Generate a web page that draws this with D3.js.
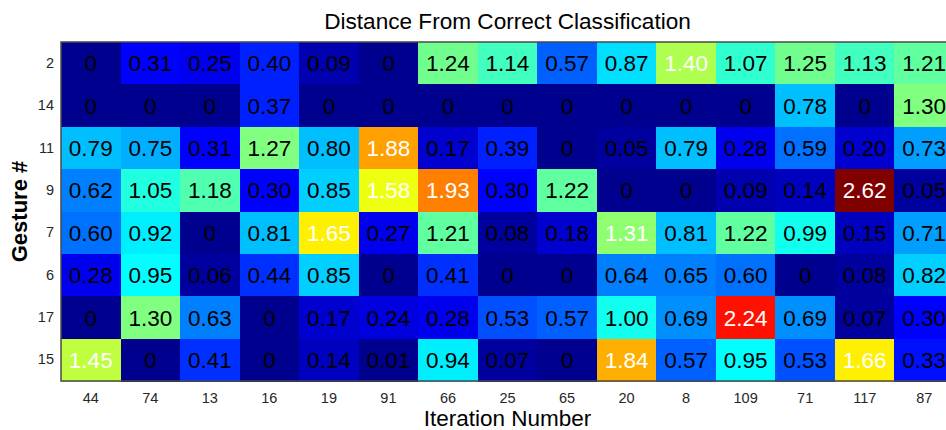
<!DOCTYPE html>
<html>
<head>
<meta charset="utf-8">
<script src="https://cdn.jsdelivr.net/npm/d3@7"></script>
<style>
  html, body { margin: 0; padding: 0; background: #fff; overflow: hidden; }
  svg { display: block; font-family: "Liberation Sans", Arial, Helvetica, sans-serif; }
</style>
</head>
<body>
<svg id="chart" width="946" height="430"></svg>
<script>
// Iteration numbers along the bottom, gesture ids down the side
const iterations = ["44", "74", "13", "16", "19", "91", "66", "25", "65", "20", "8", "109", "71", "117", "87"];
const gestures = ["2", "14", "11", "9", "7", "6", "17", "15"];

// Distance from the correct classification, one array per gesture row
const g2  = [0, 0.31, 0.25, 0.40, 0.09, 0, 1.24, 1.14, 0.57, 0.87, 1.40, 1.07, 1.25, 1.13, 1.21];
const g14 = [0, 0, 0, 0.37, 0, 0, 0, 0, 0, 0, 0, 0, 0.78, 0, 1.30];
const g11 = [0.79, 0.75, 0.31, 1.27, 0.80, 1.88, 0.17, 0.39, 0, 0.05, 0.79, 0.28, 0.59, 0.20, 0.73];
const g9  = [0.62, 1.05, 1.18, 0.30, 0.85, 1.58, 1.93, 0.30, 1.22, 0, 0, 0.09, 0.14, 2.62, 0.05];
const g7  = [0.60, 0.92, 0, 0.81, 1.65, 0.27, 1.21, 0.08, 0.18, 1.31, 0.81, 1.22, 0.99, 0.15, 0.71];
const g6  = [0.28, 0.95, 0.06, 0.44, 0.85, 0, 0.41, 0, 0, 0.64, 0.65, 0.60, 0, 0.08, 0.82];
const g17 = [0, 1.30, 0.63, 0, 0.17, 0.24, 0.28, 0.53, 0.57, 1.00, 0.69, 2.24, 0.69, 0.07, 0.30];
const g15 = [1.45, 0, 0.41, 0, 0.14, 0.01, 0.94, 0.07, 0, 1.84, 0.57, 0.95, 0.53, 1.66, 0.33];
const rows = [g2, g14, g11, g9, g7, g6, g17, g15];

const cells = [];
rows.forEach((vals, r) => vals.forEach((v, c) => cells.push({ g: gestures[r], it: iterations[c], v })));

// 64-step "jet" colour table
function jetTable(m) {
  const n = Math.ceil(m / 4);
  const u = [];
  for (let k = 1; k <= n; k++) u.push(k / n);
  for (let k = 1; k < n; k++) u.push(1);
  for (let k = n; k >= 1; k--) u.push(k / n);
  const off = Math.ceil(n / 2) - (m % 4 === 1 ? 1 : 0);
  const J = Array.from({ length: m }, () => [0, 0, 0]);
  u.forEach((val, k) => {
    const g = off + k + 1;
    const r = g + n, b = g - n;
    if (r <= m) J[r - 1][0] = val;
    if (g >= 1 && g <= m) J[g - 1][1] = val;
    if (b >= 1) J[b - 1][2] = val;
  });
  return J.map(([r, g, b]) => d3.rgb(r * 255, g * 255, b * 255).formatHex());
}
const jet = jetTable(64);
const vmax = d3.max(cells, d => d.v);
const color = v => jet[Math.min(63, Math.floor(v / vmax * 64))];

const svg = d3.select("#chart");
const x = d3.scaleBand().domain(iterations).range([61, 954]);
const y = d3.scaleBand().domain(gestures).range([42, 381]);

// heatmap cells
svg.append("g")
  .selectAll("rect")
  .data(cells)
  .join("rect")
  .attr("x", d => x(d.it))
  .attr("y", d => y(d.g))
  .attr("width", x.bandwidth() + 0.5)
  .attr("height", y.bandwidth() + 0.5)
  .attr("fill", d => color(d.v))
  .attr("shape-rendering", "crispEdges");

// value labels
svg.append("g")
  .selectAll("text")
  .data(cells)
  .join("text")
  .attr("x", d => x(d.it) + x.bandwidth() / 2)
  .attr("y", d => y(d.g) + y.bandwidth() / 2)
  .attr("dy", "0.36em")
  .attr("text-anchor", "middle")
  .attr("font-size", "22.5px")
  .attr("fill", d => d.v > 1.305 ? "#ffffff" : "#000000")
  .text(d => d.v === 0 ? "0" : d.v.toFixed(2));

// plot frame
svg.append("rect")
  .attr("x", 61).attr("y", 42)
  .attr("width", 893).attr("height", 339)
  .attr("fill", "none")
  .attr("stroke", "#4a4a4a")
  .attr("stroke-width", 1.5);

// axes
const xAxis = svg.append("g")
  .attr("transform", "translate(0,381)")
  .call(d3.axisBottom(x).tickSize(0).tickPadding(8));
const yAxis = svg.append("g")
  .attr("transform", "translate(61,0)")
  .call(d3.axisLeft(y).tickSize(0).tickPadding(7));
[xAxis, yAxis].forEach(a => {
  a.select(".domain").remove();
  a.selectAll("text")
    .attr("font-size", "14.5px")
    .attr("font-family", "'Liberation Sans', Arial, sans-serif")
    .attr("fill", "#262626");
});
xAxis.selectAll("text").attr("dy", "0.95em");

// titles
const cx = (61 + 954) / 2;
svg.append("text")
  .attr("x", cx).attr("y", 29)
  .attr("text-anchor", "middle")
  .attr("font-size", "22.6px")
  .attr("fill", "#000")
  .text("Distance From Correct Classification");

svg.append("text")
  .attr("x", cx).attr("y", 426)
  .attr("text-anchor", "middle")
  .attr("font-size", "22.5px")
  .attr("fill", "#000")
  .text("Iteration Number");

svg.append("text")
  .attr("transform", `translate(27,${(42 + 381) / 2}) rotate(-90)`)
  .attr("text-anchor", "middle")
  .attr("font-size", "22px")
  .attr("font-weight", "bold")
  .attr("fill", "#000")
  .text("Gesture #");
</script>
</body>
</html>
